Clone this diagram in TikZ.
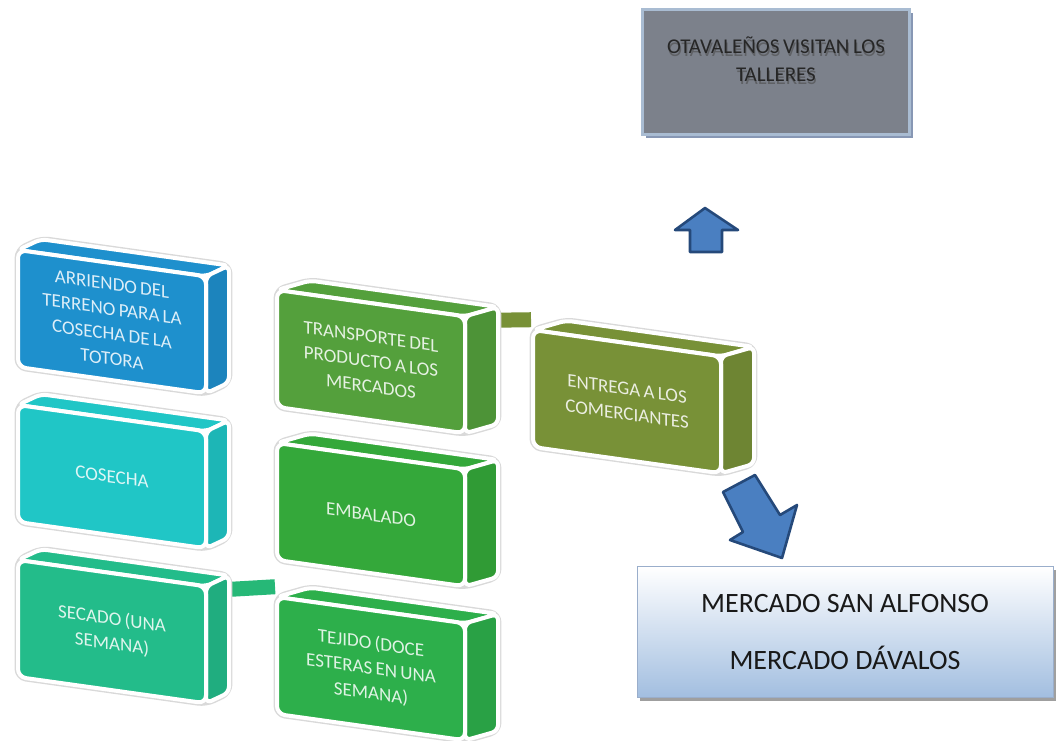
\documentclass[tikz,border=0pt]{standalone}
\usepackage{fontspec}
\setmainfont{Carlito}
\newfontfamily\blokfont{Carlito}[WordSpace=0.75]
\usepackage{tikz}
\usetikzlibrary{backgrounds,shadows}
\definecolor{arriendocol}{RGB}{30,144,205}
\definecolor{cosechacol}{RGB}{32,198,198}
\definecolor{secadocol}{RGB}{35,188,138}
\definecolor{tejidocol}{RGB}{45,175,75}
\definecolor{embaladocol}{RGB}{52,168,58}
\definecolor{transportecol}{RGB}{84,160,60}
\definecolor{entregacol}{RGB}{120,145,55}
\definecolor{arrowblue}{RGB}{74,127,193}
\definecolor{arrowedge}{RGB}{37,73,122}
\definecolor{greyfill}{RGB}{124,129,139}
\definecolor{greyedge}{RGB}{169,188,210}
\definecolor{greyshadow}{RGB}{135,151,180}
\definecolor{marketblue}{RGB}{162,190,224}
\definecolor{marketedge}{RGB}{154,174,203}
\tikzstyle{halo} = [draw=gray!30, line width=3.4pt, line join=round, rounded corners=4pt]
\tikzstyle{sideface} = [draw=white, line width=2pt, line join=round, rounded corners=3pt]
\tikzstyle{frontface} = [draw=white, line width=2pt, rectangle, rounded corners=4pt, minimum width=94pt, minimum height=58.5pt, align=center, font=\blokfont\fontsize{9.5}{12.5}\selectfont, transform shape]
\tikzstyle{bar} = [line width=7.5pt]
\tikzstyle{blockarrow} = [fill=arrowblue, draw=arrowedge, line width=1.3pt, line join=round]
\tikzstyle{greybox} = [rectangle, fill=greyfill, draw=greyedge, line width=1.2pt, minimum width=133.5pt, minimum height=62.5pt, drop shadow={shadow xshift=1.5pt, shadow yshift=-1.5pt, fill=greyshadow, opacity=1}]
\tikzstyle{greytext} = [align=center, font=\blokfont\fontsize{10.5}{14}\selectfont]
\tikzstyle{marketbox} = [rectangle, top color=white, bottom color=marketblue, draw=marketedge, minimum width=208pt, minimum height=65.5pt, align=center, text=black!90, font=\fontsize{14}{28.5}\selectfont, drop shadow={shadow xshift=1.5pt, shadow yshift=-1.5pt, fill=gray!75, opacity=1}]

% depth, name, x, y, colour, text
\newcommand{\blok}[6][26]{%
  \begin{scope}[shift={(#3,#4)}, cm={1,-0.14,0,1,(0,0)}]
    \draw[halo] (0,117) -- (0,0) -- (#1,-14) -- (188+#1,-14) -- (188+#1,103) -- (188,117) -- cycle;
    \filldraw[sideface, fill=#5] (0,0) -- (#1,-14) -- (188+#1,-14) -- (188,0) -- cycle;
    \filldraw[sideface, fill=#5!92!black] (188,0) -- (188+#1,-14) -- (188+#1,103) -- (188,117) -- cycle;
    \node[frontface, fill=#5, text=#5!15!white] (#2) at (94,58.5) {#6};
  \end{scope}}

\begin{document}
\begin{tikzpicture}[x=0.5pt, y=-0.5pt]
\useasboundingbox (0,0) rectangle (1058,740);

\blok[23]{arriendo}{18}{250}{arriendocol}{ARRIENDO DEL\\TERRENO PARA LA\\COSECHA DE LA\\TOTORA}
\blok[23]{cosecha}{18}{405}{cosechacol}{COSECHA}
\blok[23]{secado}{18}{560}{secadocol}{SECADO (UNA\\SEMANA)}
\blok[33]{transporte}{277}{290}{transportecol}{TRANSPORTE DEL\\PRODUCTO A LOS\\MERCADOS}
\blok[33]{embalado}{277}{443}{embaladocol}{EMBALADO}
\blok[33]{tejido}{277}{597}{tejidocol}{TEJIDO (DOCE\\ESTERAS EN UNA\\SEMANA)}
\blok[33]{entrega}{533}{330}{entregacol}{ENTREGA A LOS\\COMERCIANTES}

\begin{pgfonlayer}{background}
\draw[bar, draw=entregacol] ([yshift=-3pt]transporte.north east) -- ([yshift=4pt]entrega.north west);
\draw[bar, draw=secadocol!70!tejidocol] ([yshift=-3pt]secado.north east) -- ([yshift=4pt]tejido.north west);
\end{pgfonlayer}

\node[greybox] (otav) at (776,72) {};
\node[greytext, text=gray!60!black, opacity=.6] (otavshadow) at (777,62) {OTAVALEÑOS VISITAN LOS\\TALLERES};
\node[greytext, text=black!85] (otavtext) at (776,59) {OTAVALEÑOS VISITAN LOS\\TALLERES};

\node[marketbox] (mercado) at (845,632) {MERCADO SAN ALFONSO\\MERCADO DÁVALOS};

\filldraw[blockarrow] (690,252) -- (690,230) -- (675,230) -- (705,208) -- (738,230) -- (722,230) -- (722,252) -- cycle;
\filldraw[blockarrow] (755,475) -- (780,515) -- (797,505) -- (782,558) -- (730,540) -- (743,532) -- (723,492) -- cycle;
\end{tikzpicture}
\end{document}
